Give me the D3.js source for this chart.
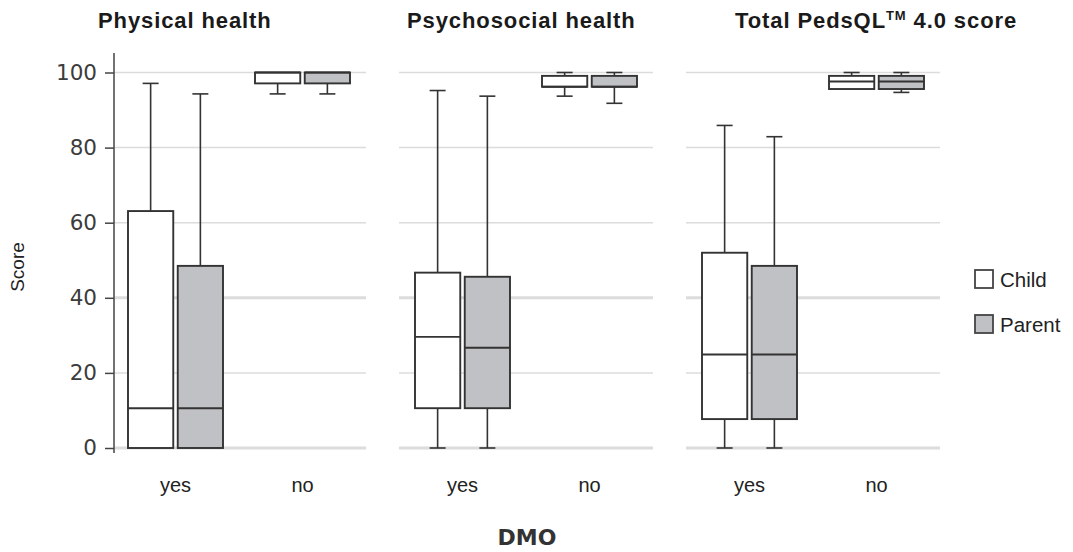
<!DOCTYPE html>
<html>
<head>
<meta charset="utf-8">
<script src="https://cdn.jsdelivr.net/npm/d3@7"></script>
<style>
  body { margin: 0; background: #fff; }
  svg { display: block; }
</style>
</head>
<body>
<svg id="chart" width="1073" height="552"></svg>
<script>
// categories
const groups = ["yes", "no"];
const series = ["Child", "Parent"];
const yTicks = [0, 20, 40, 60, 80, 100];

// box stats per group: [min, q1, median, q3, max]
const physicalChild  = [[0, 0, 10.6, 63.1, 97.1], [94.3, 97.1, 100, 100, 100]];
const physicalParent = [[0, 0, 10.6, 48.5, 94.3], [94.3, 97.1, 100, 100, 100]];
const psychoChild    = [[0, 10.6, 29.6, 46.7, 95.2], [93.7, 96.2, 96.2, 99.1, 100]];
const psychoParent   = [[0, 10.6, 26.7, 45.6, 93.7], [91.8, 96.2, 96.2, 99.1, 100]];
const totalChild     = [[0, 7.7, 24.9, 52.0, 85.9], [95.6, 95.6, 97.6, 99.1, 100]];
const totalParent    = [[0, 7.7, 24.9, 48.5, 82.9], [94.7, 95.6, 97.6, 99.1, 100]];

const panels = [
  { title: "Physical health", x0: 112, tx: 98, data: [physicalChild, physicalParent] },
  { title: "Psychosocial health", x0: 399, tx: 407, data: [psychoChild, psychoParent] },
  { title: "Total PedsQL", sup: "TM", rest: " 4.0 score", x0: 686, tx: 735, data: [totalChild, totalParent] }
];

const fills = { Child: "#ffffff", Parent: "#c0c1c4" };
const stroke = "#333";
const panelW = 254;

const svg = d3.select("#chart");

const y = d3.scaleLinear().domain([0, 100]).range([448, 72.5]);

const xBand = d3.scaleBand().domain(groups).range([0, panelW]);
const xSub = d3.scaleBand().domain(series).range([-47.5, 47.5]).paddingInner(0.09);

panels.forEach(function (p, pi) {
  const g = svg.append("g").attr("transform", "translate(" + p.x0 + ",0)");

  // gridlines
  const gx0 = pi === 0 ? 2 : 0;
  g.append("g").selectAll("line")
    .data(yTicks)
    .enter()
    .append("line")
    .attr("x1", gx0)
    .attr("x2", panelW)
    .attr("y1", d => y(d))
    .attr("y2", d => y(d))
    .attr("stroke", "#dcdcdc")
    .attr("stroke-width", d => (d === 40 || d === 0) ? 3 : 1.5);

  // boxes
  series.forEach(function (s, si) {
    const vals = p.data[si];
    groups.forEach(function (grp, gi) {
      const v = vals[gi];
      const cx = xBand(grp) + xBand.bandwidth() / 2;
      const bx = cx + xSub(s);
      const bw = xSub.bandwidth();
      const mid = bx + bw / 2;
      const bg = g.append("g");

      // whiskers
      if (v[4] > v[3]) {
        bg.append("line").attr("x1", mid).attr("x2", mid)
          .attr("y1", y(v[3])).attr("y2", y(v[4]))
          .attr("stroke", stroke).attr("stroke-width", 1.6);
        bg.append("line").attr("x1", mid - 8).attr("x2", mid + 8)
          .attr("y1", y(v[4])).attr("y2", y(v[4]))
          .attr("stroke", stroke).attr("stroke-width", 1.6);
      }
      if (v[0] < v[1]) {
        bg.append("line").attr("x1", mid).attr("x2", mid)
          .attr("y1", y(v[1])).attr("y2", y(v[0]))
          .attr("stroke", stroke).attr("stroke-width", 1.6);
        bg.append("line").attr("x1", mid - 8).attr("x2", mid + 8)
          .attr("y1", y(v[0])).attr("y2", y(v[0]))
          .attr("stroke", stroke).attr("stroke-width", 1.6);
      }

      bg.append("rect")
        .attr("x", bx)
        .attr("y", y(v[3]))
        .attr("width", bw)
        .attr("height", y(v[1]) - y(v[3]))
        .attr("fill", fills[s])
        .attr("stroke", stroke)
        .attr("stroke-width", 1.9);

      bg.append("line")
        .attr("x1", bx).attr("x2", bx + bw)
        .attr("y1", y(v[2])).attr("y2", y(v[2]))
        .attr("stroke", stroke)
        .attr("stroke-width", 1.9);
    });
  });

  // x tick labels
  g.append("g").selectAll("text")
    .data(groups)
    .enter()
    .append("text")
    .attr("x", d => xBand(d) + xBand.bandwidth() / 2)
    .attr("y", 492)
    .attr("text-anchor", "middle")
    .attr("font-family", "Liberation Sans, Arial, sans-serif")
    .attr("font-size", 20)
    .attr("fill", "#222")
    .text(d => d);

  // panel title
  const t = svg.append("text")
    .attr("x", p.tx)
    .attr("y", 28)
    .attr("font-family", "Liberation Sans, Arial, sans-serif")
    .attr("font-weight", "bold")
    .attr("font-size", 22)
    .attr("letter-spacing", 0.9)
    .attr("fill", "#1a1a1a");
  t.append("tspan").text(p.title);
  if (p.sup) {
    t.append("tspan").attr("font-size", 13).attr("dy", -8).text(p.sup);
    t.append("tspan").attr("dy", 8).text(p.rest);
  }
});

// y axis
const yAxis = d3.axisLeft(y).tickValues(yTicks).tickSize(9).tickPadding(8);
const ya = svg.append("g")
  .attr("transform", "translate(114,0)")
  .call(yAxis);
ya.select(".domain").remove();
ya.selectAll(".tick line").attr("stroke", "#444").attr("stroke-width", 1.5);
ya.selectAll(".tick text")
  .attr("font-family", "DejaVu Sans, sans-serif")
  .attr("font-size", 21.5)
  .attr("fill", "#3c3c3c");
svg.append("line")
  .attr("x1", 114).attr("x2", 114)
  .attr("y1", 53).attr("y2", 453)
  .attr("stroke", "#444").attr("stroke-width", 1.5);

// axis titles
svg.append("text")
  .attr("transform", "translate(24,267) rotate(-90)")
  .attr("text-anchor", "middle")
  .attr("font-family", "Liberation Sans, Arial, sans-serif")
  .attr("font-size", 19)
  .attr("fill", "#222")
  .text("Score");

svg.append("text")
  .attr("x", 527)
  .attr("y", 545)
  .attr("text-anchor", "middle")
  .attr("font-family", "DejaVu Sans, sans-serif")
  .attr("font-weight", "bold")
  .attr("font-size", 22)
  .attr("fill", "#333")
  .text("DMO");

// legend
const legend = svg.append("g").selectAll("g")
  .data(series)
  .enter()
  .append("g")
  .attr("transform", (d, i) => "translate(975," + (270 + i * 45) + ")");
legend.append("rect")
  .attr("width", 18).attr("height", 18)
  .attr("fill", d => fills[d])
  .attr("stroke", "#444")
  .attr("stroke-width", 1.8);
legend.append("text")
  .attr("x", 25)
  .attr("y", 16.5)
  .attr("font-family", "Liberation Sans, Arial, sans-serif")
  .attr("font-size", 20.5)
  .attr("fill", "#222")
  .text(d => d);
</script>
</body>
</html>
